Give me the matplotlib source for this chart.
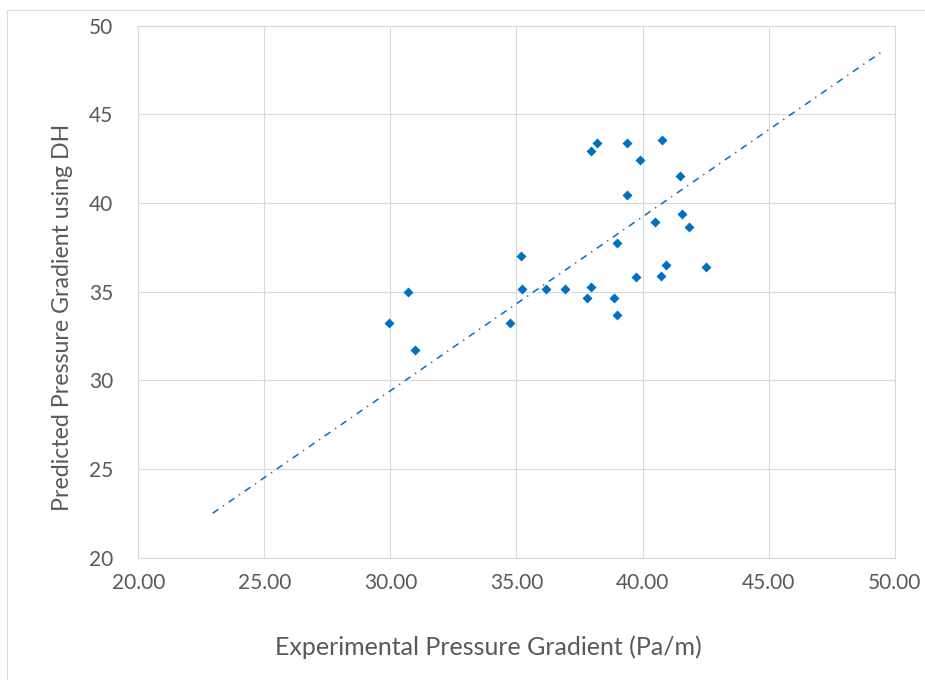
import matplotlib
matplotlib.use("Agg")
import matplotlib.pyplot as plt
import numpy as np
from matplotlib.lines import Line2D

plt.rcParams['font.family'] = ['Lato', 'DejaVu Sans']
plt.rcParams['lines.scale_dashes'] = False

# data
exp_grad = [29.96, 30.71, 30.99, 34.76, 35.16, 35.20, 36.19, 36.94, 37.78, 37.94,
            37.94, 38.21, 38.85, 38.97, 39.00, 39.37, 39.37, 39.88, 39.76, 40.48,
            40.79, 40.75, 40.95, 41.47, 41.55, 41.83, 42.50]
pred_grad = [33.22, 34.97, 31.69, 33.22, 37.00, 35.14, 35.14, 35.14, 34.63, 35.25,
             42.94, 43.39, 34.63, 33.67, 37.74, 43.39, 40.45, 42.43, 35.82, 38.93,
             43.56, 35.88, 36.50, 41.53, 39.38, 38.64, 36.38]
trend_range = [22.95, 49.5]  # forecast backward / forward extent of the trendline

x_ticks = [20, 25, 30, 35, 40, 45, 50]
y_ticks = [20, 25, 30, 35, 40, 45, 50]

blue = '#0070C0'
grey_txt = '#595959'
grid_col = '#D9D9D9'

fig = plt.figure(figsize=(9.25, 6.8), dpi=100)
ax = fig.add_axes([0.1495, 0.1799, 0.8177, 0.7823])

# trendline through the origin (intercept set to 0)
x = np.array(exp_grad)
y = np.array(pred_grad)
slope = np.sum(x * y) / np.sum(x * x)
tx = np.array(trend_range)
ax.plot(tx, slope * tx, color=blue, lw=1.1, dashes=(5, 4, 1, 4), zorder=2)

ax.scatter(exp_grad, pred_grad, marker='D', s=26, color=blue, linewidths=0, zorder=3)

ax.set_xlim(20, 50)
ax.set_ylim(20, 50)
ax.set_xticks(x_ticks)
ax.set_yticks(y_ticks)
ax.set_xticklabels([f"{v:.2f}" for v in x_ticks])
ax.set_yticklabels([str(v) for v in y_ticks])
ax.tick_params(axis='both', length=0, labelsize=15, colors=grey_txt)
ax.tick_params(axis='x', pad=11)
ax.tick_params(axis='y', pad=18)
ax.grid(True, color=grid_col, lw=0.8)
ax.set_axisbelow(True)
for s in ax.spines.values():
    s.set_color(grid_col)
    s.set_linewidth(0.8)

# axis titles placed like Excel does (slightly off centre)
fig.text(0.5276, 0.0485, "Experimental Pressure Gradient (Pa/m)", fontsize=18,
         color=grey_txt, ha='center', va='center')
fig.text(0.0681, 0.5338, "Predicted Pressure Gradient using DH", fontsize=16.7,
         color=grey_txt, ha='center', va='center', rotation=90)

# chart area border (partly cropped in the original)
fig.add_artist(Line2D([0.008, 1.0], [0.986, 0.986], color=grid_col, lw=0.8))
fig.add_artist(Line2D([0.008, 0.008], [0.0, 0.986], color=grid_col, lw=0.8))

fig.savefig("out.png", dpi=100, facecolor='white')
